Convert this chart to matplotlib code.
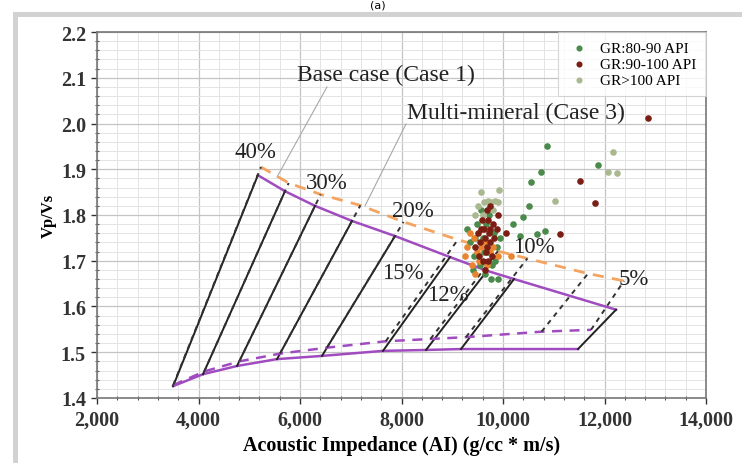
import numpy as np
import matplotlib
matplotlib.use("Agg")
import matplotlib.pyplot as plt
from matplotlib.patches import Rectangle
from matplotlib.ticker import MultipleLocator, FuncFormatter

plt.rcParams['font.family'] = ['Liberation Serif', 'DejaVu Serif']

# Case 1 (base case): porosity lines from the lower purple curve to the upper purple curve
case1_bottom_x = [3500, 4089, 4759, 5547, 6433, 7635, 8483, 9172, 11478]
case1_bottom_y = [1.426, 1.452, 1.470, 1.485, 1.492, 1.503, 1.505, 1.507, 1.507]
case1_top_x = [5170, 5704, 6296, 7025, 7872, 8956, 9685, 10217, 12227]
case1_top_y = [1.887, 1.852, 1.820, 1.787, 1.754, 1.708, 1.678, 1.660, 1.593]

# Case 3 (multi-mineral): porosity lines from the dashed purple curve to the dashed orange curve
case3_bottom_x = [3500, 4113, 4803, 5606, 6530, 7690, 8570, 9270, 10760, 11734]
case3_bottom_y = [1.428, 1.458, 1.480, 1.497, 1.510, 1.524, 1.529, 1.533, 1.545, 1.549]
case3_top_x = [5230, 5777, 6406, 7190, 8040, 9110, 9900, 10480, 11675, 12384]
case3_top_y = [1.905, 1.870, 1.845, 1.821, 1.785, 1.746, 1.721, 1.705, 1.672, 1.656]

# well data
gr80_x = [10867, 11872, 10749, 10552, 10512, 10394, 10197, 10828, 10670, 10335, 9901,
          9350, 9420, 9480, 9550, 9600, 9650, 9700, 9720, 9780, 9820, 9880, 9300, 9400,
          9560, 9660, 9760, 9850, 9450, 9620, 9950]
gr80_y = [1.951, 1.909, 1.894, 1.872, 1.820, 1.796, 1.780, 1.765, 1.758, 1.754, 1.660,
          1.74, 1.71, 1.78, 1.69, 1.75, 1.67, 1.72, 1.80, 1.69, 1.76, 1.73, 1.77, 1.68,
          1.81, 1.78, 1.66, 1.70, 1.75, 1.72, 1.75]
gr90_x = [12857, 11517, 11813, 11123,
          9500, 9550, 9580, 9620, 9650, 9680, 9700, 9720, 9750, 9780, 9800, 9830, 9600,
          9640, 9700, 9750, 9680, 9450, 9520, 9880, 9900, 9560, 9660, 9740, 10050]
gr90_y = [2.012, 1.874, 1.826, 1.758,
          1.76, 1.74, 1.79, 1.77, 1.75, 1.73, 1.79, 1.76, 1.74, 1.71, 1.78, 1.75, 1.70,
          1.68, 1.70, 1.82, 1.81, 1.73, 1.71, 1.77, 1.80, 1.77, 1.72, 1.77, 1.76]
gr100_x = [12167, 12069, 12246, 11025, 9567, 9921, 9764, 9620, 9700, 9850, 9900, 9500,
           9450, 9800, 9600]
gr100_y = [1.938, 1.894, 1.892, 1.831, 1.850, 1.855, 1.828, 1.828, 1.830, 1.830, 1.828,
           1.82, 1.80, 1.81, 1.80]
orange_x = [9250, 9300, 9380, 9420, 9480, 9520, 9560, 9620, 9680, 9740, 9800, 9350, 9450,
            9900, 10150, 9580]
orange_y = [1.71, 1.73, 1.69, 1.75, 1.72, 1.70, 1.73, 1.74, 1.69, 1.72, 1.73, 1.76, 1.67,
            1.71, 1.71, 1.77]

pct_labels = ["40%", "30%", "20%", "15%", "12%", "10%", "5%"]
pct_x = [5113, 6532, 8227, 8030, 8916, 10611, 12581]
pct_y = [1.938, 1.872, 1.809, 1.675, 1.627, 1.732, 1.662]

purple = '#a04cc0'
orange = '#f4a460'

fig = plt.figure(figsize=(7.42, 4.64), dpi=100)
ax = fig.add_axes([97/742, 1-399/464, (706-97)/742, (399-33)/464])

# grid
ax.set_xlim(2000, 14000)
ax.set_ylim(1.4, 2.2)
ax.xaxis.set_major_locator(MultipleLocator(2000))
ax.xaxis.set_minor_locator(MultipleLocator(400))
ax.yaxis.set_major_locator(MultipleLocator(0.1))
ax.yaxis.set_minor_locator(MultipleLocator(0.02))
ax.grid(which='major', color='#c4c4c4', lw=0.9)
ax.grid(which='minor', color='#e4e4e4', lw=0.7)
ax.set_axisbelow(True)

# case 1 curves
ax.plot(case1_top_x, case1_top_y, color=purple, lw=1.8, zorder=3)
ax.plot(case1_bottom_x, case1_bottom_y, color=purple, lw=1.8, zorder=3)
for i in range(len(case1_top_x)):
    ax.plot([case1_bottom_x[i], case1_top_x[i]], [case1_bottom_y[i], case1_top_y[i]],
            color='#222222', lw=1.4, zorder=3)

# case 3 curves
ax.plot(case3_top_x, case3_top_y, color=orange, lw=2.0, dashes=(4, 3), zorder=3)
ax.plot(case3_bottom_x, case3_bottom_y, color=purple, lw=1.8, dashes=(4, 3), zorder=3)
for i in range(len(case3_top_x)):
    ax.plot([case3_bottom_x[i], case3_top_x[i]], [case3_bottom_y[i], case3_top_y[i]],
            color='#333333', lw=1.4, dashes=(2.5, 2.5), zorder=3)

# data points
ax.scatter(gr80_x, gr80_y, s=14, color='#4a8a4a', zorder=4, label='GR:80-90 API')
ax.scatter(gr90_x, gr90_y, s=14, color='#7a1e14', zorder=5, label='GR:90-100 API')
ax.scatter(gr100_x, gr100_y, s=14, color='#a9b88e', zorder=4, label='GR>100 API')
ax.scatter(orange_x, orange_y, s=14, color='#e8842f', zorder=4, label='_nolegend_')

for t, x, y in zip(pct_labels, pct_x, pct_y):
    ax.text(x, y, t, fontsize=16.5, ha='center', va='center', color='#222222', zorder=6)

# annotations with leader lines
ax.plot([6532, 5547], [2.080, 1.883], color='#a8a8a8', lw=0.8, zorder=2)
ax.text(5941, 2.108, "Base case (Case 1)", fontsize=17, ha='left', va='center', color='#222222')
ax.plot([8089, 7281], [1.999, 1.820], color='#a8a8a8', lw=0.8, zorder=2)
ax.text(8110, 2.025, "Multi-mineral (Case 3)", fontsize=17, ha='left', va='center', color='#222222')

leg = ax.legend(loc='upper right', fontsize=11, frameon=True, fancybox=False,
                borderaxespad=0.0, handletextpad=0.6, labelspacing=0.15,
                borderpad=0.6, handlelength=1.6, markerscale=0.9, edgecolor='#cccccc')
leg.get_frame().set_linewidth(0.8)

ax.xaxis.set_major_formatter(FuncFormatter(lambda v, p: f"{int(v):,}"))
ax.yaxis.set_major_formatter(FuncFormatter(lambda v, p: f"{v:.1f}"))
ax.tick_params(which='major', direction='out', length=4, width=1, labelsize=14.5, pad=4,
               colors='#333333')
ax.tick_params(which='minor', direction='inout', length=3, width=0.8, colors='#555555')
for lab in ax.get_xticklabels() + ax.get_yticklabels():
    lab.set_fontweight('bold')
for s in ax.spines.values():
    s.set_color('#777777')
    s.set_linewidth(1.2)

ax.set_xlabel("Acoustic Impedance (AI) (g/cc * m/s)", fontsize=14.5, fontweight='bold', labelpad=4)
ax.set_ylabel("Vp/Vs", fontsize=12, fontweight='bold', labelpad=3)

# panel frame and caption
fig.patches.append(Rectangle((14.5/742, -0.1), 1.2, 1.1 - 14.5/464, transform=fig.transFigure,
                             fill=False, edgecolor='#d2d2d2', lw=3.6))
fig.text(378/742, 1 - 1/464, "(a)", ha='center', va='top', fontsize=8,
         family='DejaVu Sans')

fig.savefig("out.png", dpi=100)
